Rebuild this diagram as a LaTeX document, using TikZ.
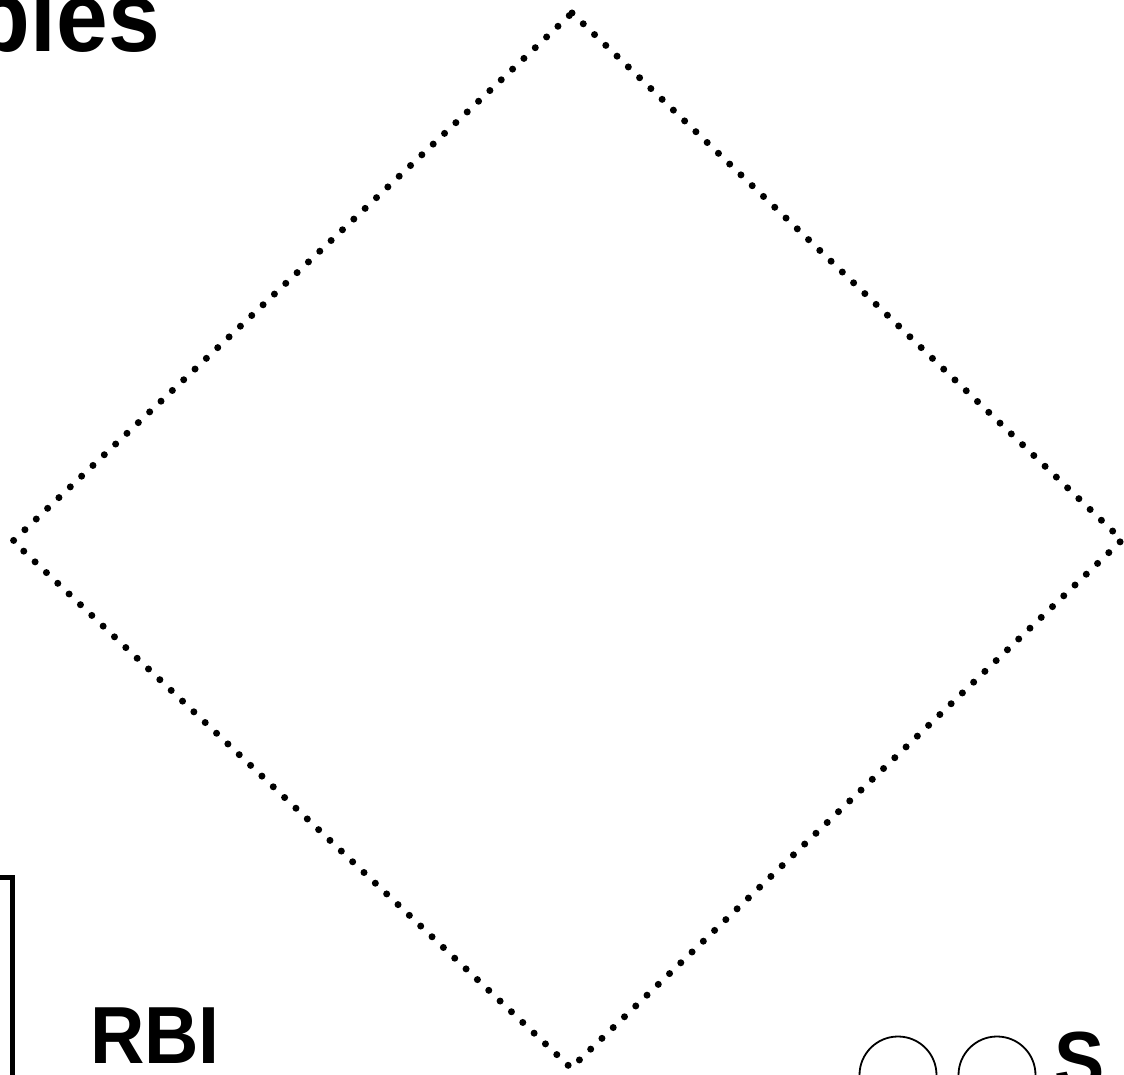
\documentclass[tikz,border=0pt]{standalone}
\usepackage{fontspec}
\setmainfont{Liberation Sans}
\usetikzlibrary{positioning}
\newcommand{\narrow}[1]{\scalebox{0.93}[1]{#1}}

\begin{document}
\begin{tikzpicture}[x=1pt, y=1pt,
  bigtxt/.style={font=\fontsize{81}{96}\selectfont\bfseries, inner sep=0pt},
  hugetxt/.style={font=\fontsize{100}{120}\selectfont\bfseries, inner sep=0pt},
  dotline/.style={line width=7pt, line cap=round, dash pattern=on 0pt off 15.6pt},
  ring/.style={draw, line width=1.8pt},
]
  \useasboundingbox (0,0) rectangle (1124,1074);
  % --- dotted rhombus ---
  \coordinate (top) at (572,1061);
  \coordinate (rgt) at (1122,534);
  \coordinate (bot) at (571,6);
  \coordinate (lft) at (13,533);
  \draw[dotline] (top) -- (rgt) -- (bot) -- (lft) -- cycle;
  % --- labels ---
  \node[hugetxt, anchor=base east] (bles) at (160,1022) {\narrow{bles}};
  \node[bigtxt, anchor=base west] (rbi) at (90,11) {\narrow{RBI}};
  \node[bigtxt, anchor=base west] (s) at (1054,-14) {\narrow{S}};
  % --- left bracket ---
  \draw[line width=5pt] (-5,197) -- (12.5,197) -- (12.5,-5);
  % --- rings ---
  \draw[ring] (898,-1) circle (38.5pt);
  \draw[ring] (997,-1) circle (38.5pt);
\end{tikzpicture}
\end{document}
